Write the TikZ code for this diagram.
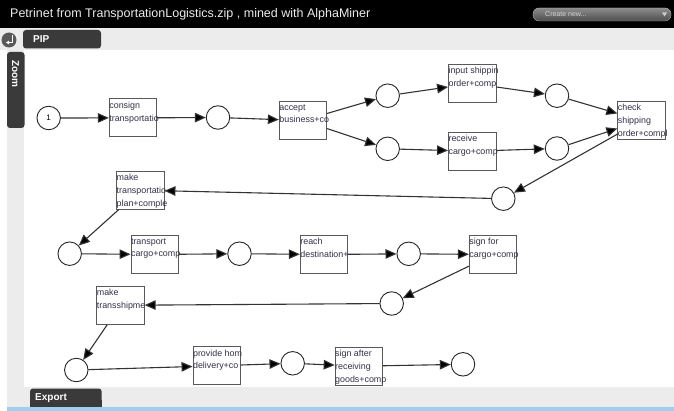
\documentclass[tikz,border=0pt]{standalone}
\usepackage{fontspec}
\setmainfont{Liberation Sans}
\usetikzlibrary{arrows.meta}
\definecolor{txt}{RGB}{50,50,72}
\definecolor{chrome}{RGB}{58,58,58}
\definecolor{panel}{RGB}{236,236,236}
\definecolor{bluebar}{RGB}{160,206,238}
\begin{document}
\begin{tikzpicture}[x=1pt,y=-1pt,
  place/.style={circle,draw=black!85,line width=0.9pt,fill=white,minimum size=23.5pt,inner sep=0pt},
  trans/.style={rectangle,draw=black!65,line width=0.8pt,fill=white,minimum width=47.5pt,minimum height=38pt,inner sep=0pt},
  lbl/.style={anchor=north west,inner xsep=0.3pt,inner ysep=3.2pt,align=left,text=txt,font=\fontsize{8.9}{12.7}\selectfont},
  arc/.style={draw=black!80,line width=1.1pt,-{Triangle[length=11pt,width=9.5pt,fill=black]}},
  tabtext/.style={text=white,font=\bfseries\fontsize{10}{12}\selectfont,inner sep=0pt}]
\useasboundingbox (0,0) rectangle (674,411);
% chrome
\fill[white] (0,0) rectangle (674,411);
\fill[panel] (6.7,28) rectangle (674,407);
\fill[panel] (0,28) rectangle (674,50);
\fill[white] (23.5,50) rectangle (674,386.7);
\fill[black] (0,0) rectangle (674,28);
\fill[bluebar] (6.7,407) rectangle (674,411);
\node[anchor=west,text=white!92!black,font=\fontsize{12.5}{14}\selectfont,inner sep=0pt] (title) at (10,14) {Petrinet from TransportationLogistics.zip , mined with AlphaMiner};
\fill[top color=black!45,bottom color=black!70,draw=black!30,rounded corners=6pt] (533,8) rectangle (671,21);
\node[anchor=west,text=white!85!black,font=\fontsize{7}{8}\selectfont,inner sep=0pt] (create) at (545,14.5) {Create new...};
\fill[white!80!black] (662,12.5) -- (667,12.5) -- (664.5,16.5) -- cycle;
% PIP tab and icon
\fill[chrome,rounded corners=3pt] (23,30) rectangle (101,48.5);
\node[tabtext,anchor=west] (pip) at (33,39.5) {PIP};
\fill[black!65] (9,40) circle (7.5);
\draw[white,line width=1pt,-{Triangle[length=3pt,width=3.5pt]}] (12,35.5) -- (12,42.5) -- (6,42.5);
% Zoom tab
\fill[chrome,rounded corners=3pt] (7,52) rectangle (24.5,128);
\node[tabtext,rotate=-90] (zoomtxt) at (15.5,74) {Zoom};
% Export tab
\fill[chrome,rounded corners=3pt] (30,388.5) rectangle (101.7,410);
\fill[bluebar] (28,407) rectangle (104,411);
\fill[chrome] (30,400) rectangle (101.7,407);
\node[tabtext,anchor=west] (export) at (35,398) {Export};
% places
\node[place] (p1) at (48.7,118) {\fontsize{8}{9}\selectfont 1};
\node[place] (p2) at (218,117.5) {};
\node[place] (p3) at (387.7,95.7) {};
\node[place] (p4) at (387.7,148.8) {};
\node[place] (p5) at (557,95.7) {};
\node[place] (p6) at (557,148.5) {};
\node[place] (p7) at (503.3,198.7) {};
\node[place] (p8) at (69.7,253.7) {};
\node[place] (p9) at (239.5,253.7) {};
\node[place] (p10) at (408.7,253.8) {};
\node[place] (p11) at (391.7,303.5) {};
\node[place] (p12) at (76.3,370) {};
\node[place] (p13) at (292.7,363.3) {};
\node[place] (p14) at (463,364.3) {};
% transitions
\node[trans] (t1) at (133,117.9) {};
\node[trans] (t2) at (303,120.5) {};
\node[trans] (t3) at (472.2,83.5) {};
\node[trans] (t4) at (472.2,151.2) {};
\node[trans] (t5) at (641.5,120.5) {};
\node[trans] (t6) at (140.3,190.2) {};
\node[trans] (t7) at (154.7,254.5) {};
\node[trans] (t8) at (324,254.5) {};
\node[trans] (t9) at (493,254.5) {};
\node[trans] (t10) at (120.5,305.3) {};
\node[trans] (t11) at (216.7,365.8) {};
\node[trans] (t12) at (358.8,366.2) {};
% labels
\node[lbl] (l1) at (t1.north west) {consign\\transportatio};
\node[lbl] (l2) at (t2.north west) {accept\\business+co};
\node[lbl] (l3) at (t3.north west) {input shippin\\order+comp};
\node[lbl] (l4) at (t4.north west) {receive\\cargo+comp};
\node[lbl] (l5) at (t5.north west) {check\\shipping\\order+compl};
\node[lbl] (l6) at (t6.north west) {make\\transportatio\\plan+comple};
\node[lbl] (l7) at (t7.north west) {transport\\cargo+comp};
\node[lbl] (l8) at (t8.north west) {reach\\destination+};
\node[lbl] (l9) at (t9.north west) {sign for\\cargo+comp};
\node[lbl] (l10) at (t10.north west) {make\\transshipme};
\node[lbl] (l11) at (t11.north west) {provide hom\\delivery+co};
\node[lbl] (l12) at (t12.north west) {sign after\\receiving\\goods+comp};
% arcs
\draw[arc] (p1) -- (t1);
\draw[arc] (t1) -- (p2);
\draw[arc] (p2) -- (t2);
\draw[arc] (t2) -- (p3);
\draw[arc] (t2) -- (p4);
\draw[arc] (p3) -- (t3);
\draw[arc] (p4) -- (t4);
\draw[arc] (t3) -- (p5);
\draw[arc] (t4) -- (p6);
\draw[arc] (p5) -- (t5);
\draw[arc] (p6) -- (t5);
\draw[arc] (t5) -- (p7);
\draw[arc] (p7) -- (t6);
\draw[arc] (t6) -- (p8);
\draw[arc] (p8) -- (t7);
\draw[arc] (t7) -- (p9);
\draw[arc] (p9) -- (t8);
\draw[arc] (t8) -- (p10);
\draw[arc] (p10) -- (t9);
\draw[arc] (t9) -- (p11);
\draw[arc] (p11) -- (t10);
\draw[arc] (t10) -- (p12);
\draw[arc] (p12) -- (t11);
\draw[arc] (t11) -- (p13);
\draw[arc] (p13) -- (t12);
\draw[arc] (t12) -- (p14);
\end{tikzpicture}
\end{document}
